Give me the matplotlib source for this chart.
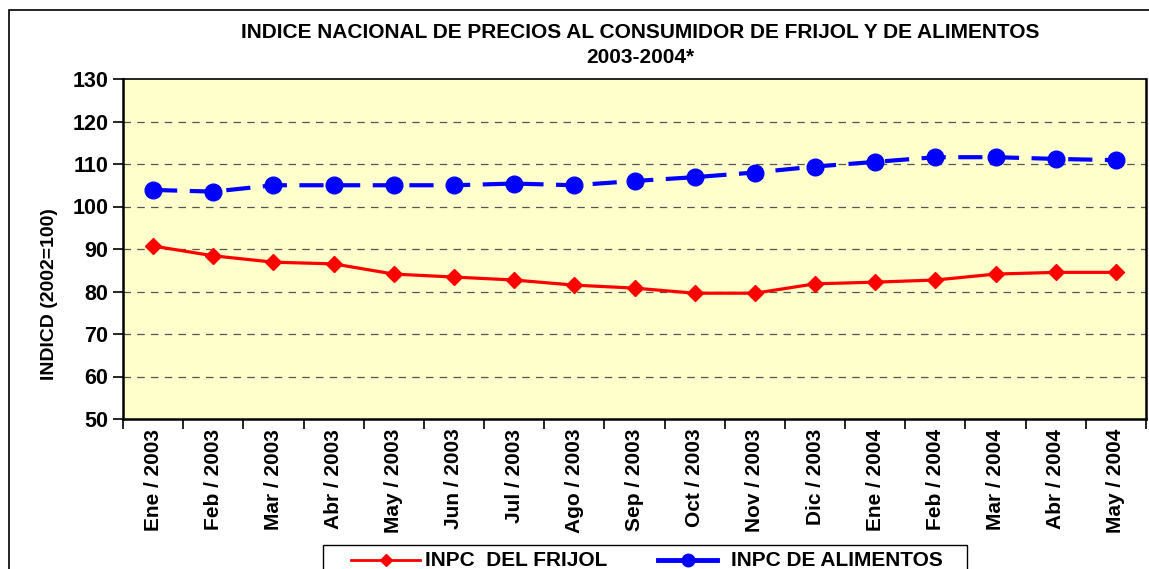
import matplotlib.pyplot as plt
from matplotlib.patches import Rectangle
from matplotlib.lines import Line2D

plt.rcParams['font.family'] = ['Liberation Sans', 'DejaVu Sans']
plt.rcParams['font.weight'] = 'bold'

meses = ['Ene / 2003', 'Feb / 2003', 'Mar / 2003', 'Abr / 2003', 'May / 2003',
         'Jun / 2003', 'Jul / 2003', 'Ago / 2003', 'Sep / 2003', 'Oct / 2003',
         'Nov / 2003', 'Dic / 2003', 'Ene / 2004', 'Feb / 2004', 'Mar / 2004',
         'Abr / 2004', 'May / 2004']
frijol = [90.7, 88.4, 86.9, 86.5, 84.1, 83.4, 82.7, 81.5, 80.8, 79.6,
          79.6, 81.8, 82.2, 82.7, 84.1, 84.5, 84.5]
alimentos = [103.9, 103.5, 105.0, 105.0, 105.0, 105.0, 105.4, 105.0, 106.0, 106.9,
             108.0, 109.4, 110.5, 111.6, 111.6, 111.2, 110.9]
series_labels = ['INPC  DEL FRIJOL', 'INPC DE ALIMENTOS']

W, H = 1149, 569
fig = plt.figure(figsize=(W / 100, H / 100), dpi=100)
fig.patch.set_facecolor('white')


def fx(px):
    return px / W


def fy(py):
    return 1 - py / H


# outer chart frame
fig.patches.append(Rectangle((fx(9), -0.05), 1.1, fy(10) + 0.05,
                             transform=fig.transFigure, fill=False,
                             edgecolor='black', linewidth=1.2))

ax = fig.add_axes([fx(123), fy(419), fx(1146 - 123), (419 - 79) / H])
ax.set_facecolor('#FFFFCC')

RED = '#FF0000'
BLUE = '#0000FF'
blue_dash = (0, (5.8, 3))

x = list(range(len(meses)))
ax.plot(x, frijol, color=RED, linewidth=2.3, marker='D', markersize=8)
ax.plot(x, alimentos, color=BLUE, linewidth=3, linestyle=blue_dash,
        marker='o', markersize=12)

ax.set_ylim(50, 130)
ax.set_yticks(range(50, 131, 10))
ax.set_xlim(-0.5, len(meses) - 0.5)
ax.set_xticks([i - 0.5 for i in range(len(meses) + 1)])
ax.set_xticklabels([])
ax.set_xticks(x, minor=True)
ax.set_xticklabels(meses, minor=True, rotation=90, fontsize=15, fontweight='bold')
ax.tick_params(axis='x', which='minor', length=0, pad=7)
ax.tick_params(axis='x', which='major', length=7, width=1.2, direction='out')
ax.tick_params(axis='y', length=7, width=1.2, direction='out', labelsize=15.5)
for lab in ax.get_yticklabels():
    lab.set_fontweight('bold')

for v in range(60, 130, 10):
    ax.axhline(v, color='#555555', linestyle=(0, (6, 5)), linewidth=0.9, zorder=0)

ax.spines['top'].set_linewidth(1.2)
ax.spines['left'].set_linewidth(1.8)
ax.spines['bottom'].set_linewidth(1.8)
ax.spines['right'].set_linewidth(1.8)

ax.set_ylabel('INDICD (2002=100)', fontsize=14, fontweight='bold')
ax.yaxis.set_label_coords(-0.064, (419 - 294.5) / 340)

fig.text(fx(640), fy(33), 'INDICE NACIONAL DE PRECIOS AL CONSUMIDOR DE FRIJOL Y DE ALIMENTOS',
         ha='center', va='center', fontsize=15, fontweight='bold')
fig.text(fx(640), fy(57), '2003-2004*', ha='center', va='center',
         fontsize=15, fontweight='bold')

# legend box at the bottom (cut by the image edge, as in the original)
fig.patches.append(Rectangle((fx(323), -0.05), fx(967 - 323), fy(545) + 0.05,
                             transform=fig.transFigure, fill=False,
                             edgecolor='black', linewidth=1.0))
ly = fy(560)
fig.lines.append(Line2D([fx(351), fx(385.5), fx(420)], [ly, ly, ly],
                        transform=fig.transFigure, color=RED, linewidth=2,
                        marker='D', markersize=6.5, markevery=[1]))
fig.text(fx(425), ly, series_labels[0], ha='left', va='center',
         fontsize=15, fontweight='bold')
fig.lines.append(Line2D([fx(658), fx(687.5), fx(717)], [ly, ly, ly],
                        transform=fig.transFigure, color=BLUE, linewidth=3.5,
                        marker='o', markersize=9, markevery=[1]))
fig.text(fx(731), ly, series_labels[1], ha='left', va='center',
         fontsize=15, fontweight='bold')

fig.savefig('out.png', dpi=100)
